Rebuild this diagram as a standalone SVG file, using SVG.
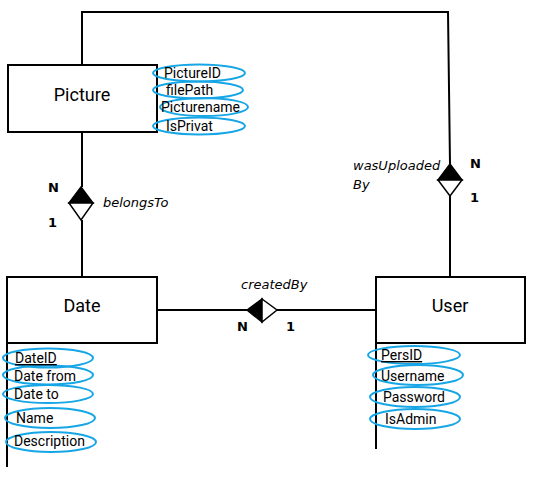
<svg xmlns="http://www.w3.org/2000/svg" width="539" height="499" viewBox="0 0 539 499">
<style>
.ent{fill:#fff;stroke:#000;stroke-width:2}
.ln{fill:none;stroke:#000;stroke-width:2}
.att{fill:none;stroke:#16a6e6;stroke-width:2}
.t{font-family:Roboto,"Liberation Sans",sans-serif;font-size:14px;fill:#000}
.title{font-family:Roboto,"Liberation Sans",sans-serif;font-size:18px;fill:#000;text-anchor:middle}
.rel{font-family:"DejaVu Sans",Verdana,sans-serif;font-size:13px;font-style:italic;fill:#000}
.card{font-family:"DejaVu Sans",sans-serif;font-size:13px;font-weight:bold;fill:#000}
.u{text-decoration:underline}
</style>
<rect width="539" height="499" fill="#fff"/>
<g id="connectors">
<polyline class="ln" points="82,64 82,12 448,12 450,164"/>
<line class="ln" x1="82" y1="132" x2="82" y2="187"/>
<line class="ln" x1="82" y1="220" x2="82" y2="277"/>
<line class="ln" x1="450" y1="196" x2="450" y2="277"/>
<line class="ln" x1="157" y1="310" x2="247" y2="310"/>
<line class="ln" x1="277" y1="310" x2="376" y2="310"/>
<line class="ln" x1="7" y1="343" x2="7" y2="467"/>
<line class="ln" x1="376" y1="343" x2="376" y2="449"/>
</g>
<g id="belongsTo">
<polygon points="69,203 81,187 93,203" fill="#000" stroke="#000" stroke-width="1.5"/>
<polygon points="69,203 93,203 81,220" fill="#fff" stroke="#000" stroke-width="1.5"/>
<text class="rel" x="103" y="207">belongsTo</text>
<text class="card" x="48" y="192">N</text>
<text class="card" x="48" y="227">1</text>
</g>
<g id="wasUploadedBy">
<polygon points="438,180 450,164 462,180" fill="#000" stroke="#000" stroke-width="1.5"/>
<polygon points="438,180 462,180 450,196" fill="#fff" stroke="#000" stroke-width="1.5"/>
<text class="rel" x="353" y="170">wasUploaded</text>
<text class="rel" x="353" y="189">By</text>
<text class="card" x="470" y="168">N</text>
<text class="card" x="470" y="202">1</text>
</g>
<g id="createdBy">
<polygon points="247,310 262,299 262,322" fill="#000" stroke="#000" stroke-width="1.5"/>
<polygon points="262,299 277,310 262,322" fill="#fff" stroke="#000" stroke-width="1.5"/>
<text class="rel" x="241" y="289">createdBy</text>
<text class="card" x="237" y="331">N</text>
<text class="card" x="286" y="331">1</text>
</g>
<g id="Picture">
<rect class="ent" x="8" y="65" width="149" height="67"/>
<text class="title" x="82" y="101">Picture</text>
<ellipse class="att" cx="199" cy="73" rx="46" ry="8.5"/>
<ellipse class="att" cx="198" cy="90" rx="45" ry="8.5"/>
<ellipse class="att" cx="204" cy="107" rx="44" ry="9"/>
<ellipse class="att" cx="199" cy="126" rx="46" ry="8.5"/>
<text class="t" x="164" y="78">PictureID</text>
<text class="t" x="166" y="95">filePath</text>
<text class="t" x="161" y="112">Picturename</text>
<text class="t" x="166" y="131">IsPrivat</text>
</g>
<g id="Date">
<rect class="ent" x="7" y="277" width="150" height="66"/>
<text class="title" x="82" y="312">Date</text>
<ellipse class="att" cx="48" cy="358" rx="45" ry="9.5"/>
<ellipse class="att" cx="48" cy="375" rx="45" ry="9.5"/>
<ellipse class="att" cx="48" cy="394" rx="45" ry="9"/>
<ellipse class="att" cx="50" cy="418" rx="45" ry="10"/>
<ellipse class="att" cx="51" cy="442" rx="45" ry="10"/>
<text class="t u" x="15" y="363">DateID</text>
<text class="t" x="14" y="381">Date from</text>
<text class="t" x="14" y="399">Date to</text>
<text class="t" x="16" y="423">Name</text>
<text class="t" x="14" y="446">Description</text>
</g>
<g id="User">
<rect class="ent" x="376" y="277" width="149" height="66"/>
<text class="title" x="450" y="312">User</text>
<ellipse class="att" cx="414" cy="355" rx="46" ry="9"/>
<ellipse class="att" cx="418" cy="375" rx="45" ry="10"/>
<ellipse class="att" cx="415" cy="397" rx="45" ry="10"/>
<ellipse class="att" cx="415" cy="419" rx="45" ry="10"/>
<text class="t u" x="381" y="360">PersID</text>
<text class="t" x="381" y="381">Username</text>
<text class="t" x="383" y="402">Password</text>
<text class="t" x="385" y="424">IsAdmin</text>
</g>
</svg>
